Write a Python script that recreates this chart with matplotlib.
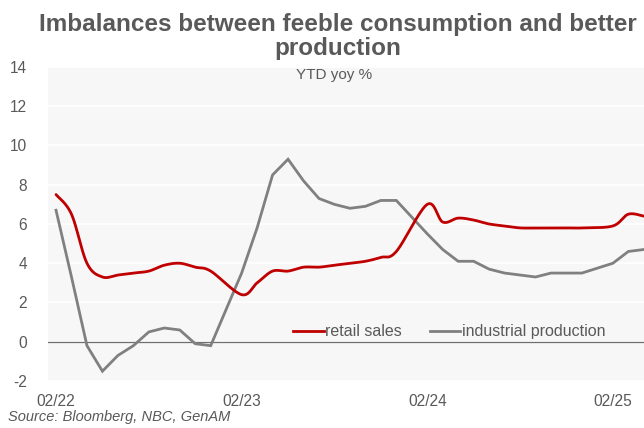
import numpy as np
import matplotlib
matplotlib.use("Agg")
import matplotlib.pyplot as plt
from matplotlib.lines import Line2D

plt.rcParams["font.family"] = ["Liberation Sans", "DejaVu Sans"]
plt.rcParams["axes.unicode_minus"] = False

# Monthly YTD observations (January is merged into February)
months = [
    "2022-02", "2022-03", "2022-04", "2022-05", "2022-06", "2022-07", "2022-08",
    "2022-09", "2022-10", "2022-11", "2022-12",
    "2023-02", "2023-03", "2023-04", "2023-05", "2023-06", "2023-07", "2023-08",
    "2023-09", "2023-10", "2023-11", "2023-12",
    "2024-02", "2024-03", "2024-04", "2024-05", "2024-06", "2024-07", "2024-08",
    "2024-09", "2024-10", "2024-11", "2024-12",
    "2025-02", "2025-03", "2025-04",
]
retail_sales = [
    7.5, 6.5, 4.0, 3.3, 3.4, 3.5, 3.6, 3.9, 4.0, 3.8, 3.6,
    2.4, 3.0, 3.6, 3.6, 3.8, 3.8, 3.9, 4.0, 4.1, 4.3, 4.6,
    7.0, 6.1, 6.3, 6.2, 6.0, 5.9, 5.8, 5.8, 5.8, 5.8, 5.8,
    5.9, 6.5, 6.4,
]
industrial_production = [
    6.7, 3.3, -0.2, -1.5, -0.7, -0.2, 0.5, 0.7, 0.6, -0.1, -0.2,
    3.5, 5.8, 8.5, 9.3, 8.2, 7.3, 7.0, 6.8, 6.9, 7.2, 7.2,
    5.5, 4.7, 4.1, 4.1, 3.7, 3.5, 3.4, 3.3, 3.5, 3.5, 3.5,
    4.0, 4.6, 4.7,
]
tick_labels = ["02/22", "02/23", "02/24", "02/25"]
y_ticks = list(range(-2, 15, 2))

title = "Imbalances between feeble consumption and better\nproduction"
subtitle = "YTD yoy %"
source = "Source: Bloomberg, NBC, GenAM"

RED = "#C00000"
GREY = "#808080"
TEXT = "#595959"


def month_index(s):
    y, m = map(int, s.split("-"))
    return (y - 2022) * 12 + (m - 2)


def smooth(x, y, n=20):
    """Catmull-Rom style smoothing through every point (spreadsheet 'smoothed line')."""
    x = np.asarray(x, float)
    y = np.asarray(y, float)
    xs, ys = [], []
    for i in range(len(x) - 1):
        p0 = (x[i - 1], y[i - 1]) if i > 0 else (x[i], y[i])
        p1 = (x[i], y[i])
        p2 = (x[i + 1], y[i + 1])
        p3 = (x[i + 2], y[i + 2]) if i + 2 < len(x) else (x[i + 1], y[i + 1])
        c1 = (p1[0] + (p2[0] - p0[0]) / 6, p1[1] + (p2[1] - p0[1]) / 6)
        c2 = (p2[0] - (p3[0] - p1[0]) / 6, p2[1] - (p3[1] - p1[1]) / 6)
        t = np.linspace(0, 1, n, endpoint=(i == len(x) - 2))
        b0 = (1 - t) ** 3
        b1 = 3 * (1 - t) ** 2 * t
        b2 = 3 * (1 - t) * t ** 2
        b3 = t ** 3
        xs.append(b0 * p1[0] + b1 * c1[0] + b2 * c2[0] + b3 * p2[0])
        ys.append(b0 * p1[1] + b1 * c1[1] + b2 * c2[1] + b3 * p2[1])
    return np.concatenate(xs), np.concatenate(ys)


x = [month_index(m) for m in months]
tick_pos = [month_index(f"20{lbl[-2:]}-02") for lbl in tick_labels]

fig = plt.figure(figsize=(6.44, 4.28), dpi=100)
ax = fig.add_axes([0.0745, 0.1098, 0.93, 0.7337])
ax.set_facecolor("#F7F7F7")

ax.set_ylim(-2, 14)
ax.set_xlim(-0.52, 38.2)
ax.set_yticks(y_ticks)
ax.set_yticklabels([str(v) for v in y_ticks])
ax.set_xticks(tick_pos)
ax.set_xticklabels(tick_labels)
ax.tick_params(axis="both", length=0, labelsize=11.2, labelcolor=TEXT)
ax.tick_params(axis="y", pad=15)
ax.tick_params(axis="x", pad=9)

ax.grid(axis="y", color="white", linewidth=1.2)
ax.set_axisbelow(True)
for sp in ax.spines.values():
    sp.set_visible(False)
ax.axhline(0, color="#6E6E6E", linewidth=0.9, zorder=2)

sx, sy = smooth(x, retail_sales)
ax.plot(sx, sy, color=RED, linewidth=2.0, solid_capstyle="round", zorder=4)
ax.plot(x, industrial_production, color=GREY, linewidth=2.0,
        solid_joinstyle="miter", zorder=3)

handles = [Line2D([], [], color=RED, linewidth=2.0),
           Line2D([], [], color=GREY, linewidth=2.0)]
leg = ax.legend(handles, ["retail sales", "industrial production"], ncol=2,
                loc="center", bbox_to_anchor=(0.67, 0.157), frameon=False,
                fontsize=11.5, handlelength=1.9, handletextpad=0.1,
                columnspacing=1.75, labelcolor=TEXT)

fig.text(0.524, 0.969, title, ha="center", va="top", fontsize=17.5,
         fontweight="bold", color=TEXT, linespacing=1.06)
fig.text(0.519, 0.825, subtitle, ha="center", va="center", fontsize=11,
         color=TEXT)
fig.text(0.012, 0.025, source, ha="left", va="center", fontsize=10.5,
         style="italic", color=TEXT)

fig.savefig("out.png", dpi=100)
